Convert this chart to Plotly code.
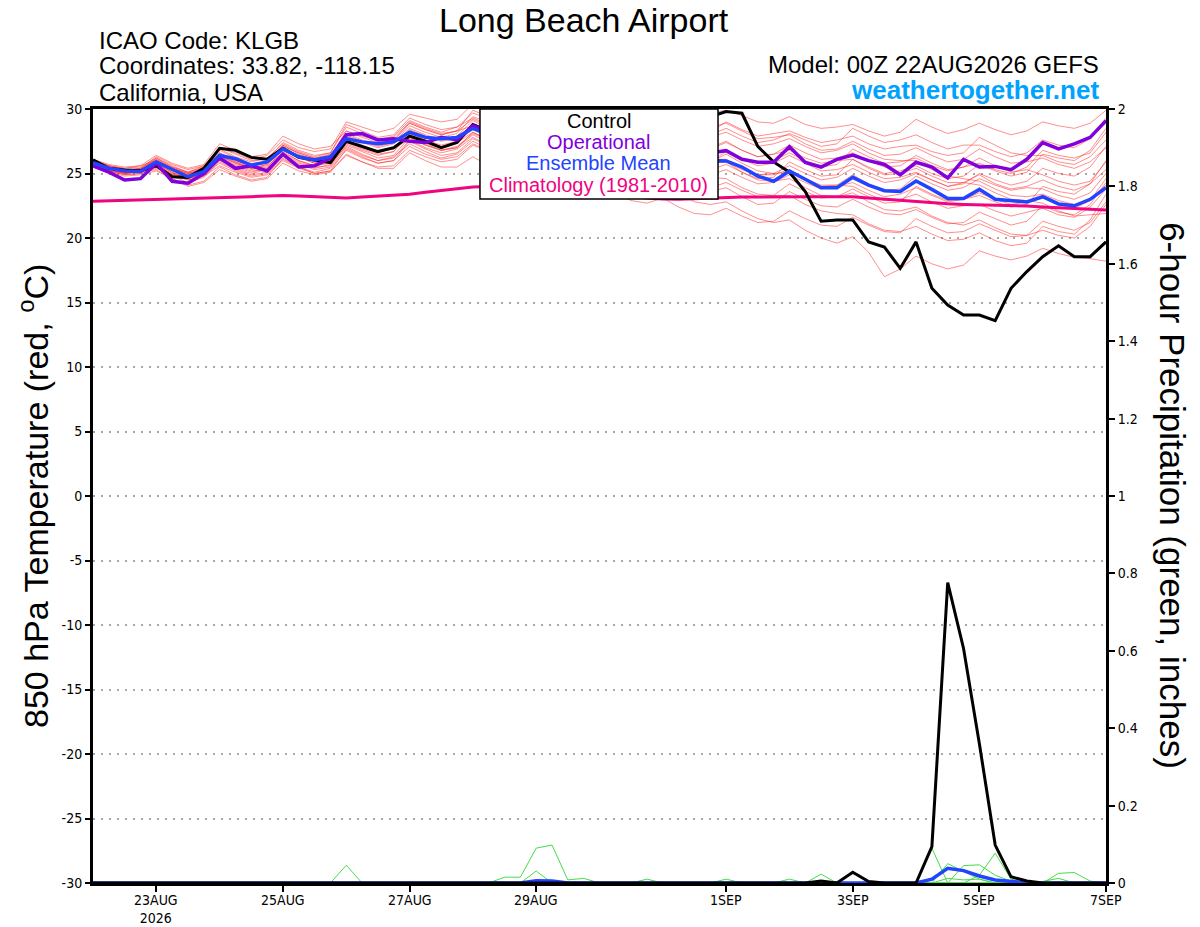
import pandas as pd
import plotly.graph_objects as go

# ---------------- data ----------------
times = pd.date_range("2026-08-22 00:00", periods=65, freq="6h")

temp_control = [26.05, 25.4, 25.27, 25.22, 25.6, 24.75, 24.7, 25.4, 26.95, 26.8, 26.25, 26.1,
                26.95, 26.25, 26.05, 25.85, 27.5, 27.1, 26.7, 27.0, 27.9, 27.5, 27.0, 27.4,
                28.8, 28.3, 28.2, 28.5, 29.2, 28.9, 28.6, 28.8, 29.4, 29.0, 28.7, 29.0,
                29.6, 29.3, 29.5, 29.4, 29.8, 29.67, 27.1, 25.9, 25.1, 23.6, 21.3, 21.4,
                21.4, 19.7, 19.3, 17.65, 19.7, 16.1, 14.8, 14.03, 14.03, 13.6, 16.1, 17.4,
                18.55, 19.4, 18.55, 18.55, 19.7]

temp_operational = [25.6, 25.1, 24.5, 24.6, 25.8, 24.4, 24.25, 25.0, 26.2, 25.4, 25.6, 25.2,
                    26.5, 25.5, 25.6, 26.2, 28.0, 28.1, 27.6, 27.7, 27.5, 27.4, 27.8, 27.6,
                    28.7, 28.3, 28.0, 27.9, 28.4, 28.0, 27.7, 27.6, 28.0, 27.6, 27.3, 27.2,
                    27.5, 27.0, 26.7, 26.6, 26.77, 26.1, 25.87, 25.87, 27.08, 25.85, 25.5, 26.1,
                    26.43, 26.0, 25.7, 24.9, 25.87, 25.5, 24.65, 26.1, 25.5, 25.55, 25.3, 26.1,
                    27.4, 26.9, 27.3, 27.8, 29.1]

temp_mean = [25.85, 25.4, 25.2, 25.15, 25.9, 25.3, 24.75, 25.15, 26.4, 26.15, 25.65, 25.9,
             26.9, 26.3, 26.05, 26.3, 27.7, 27.45, 27.3, 27.45, 28.2, 27.8, 27.7, 27.8,
             28.5, 28.0, 27.8, 27.7, 28.1, 27.8, 27.5, 27.5, 27.6, 27.2, 26.9, 26.9,
             27.1, 26.6, 26.2, 26.0, 25.97, 25.5, 24.8, 24.4, 25.2, 24.55, 23.9, 23.9,
             24.7, 24.1, 23.67, 23.6, 24.42, 23.77, 23.07, 23.07, 23.77, 23.0, 22.9, 22.8,
             23.2, 22.64, 22.5, 23.0, 23.9]

temp_climatology = [22.85, 22.88, 22.92, 22.96, 23.0, 23.02, 23.05, 23.08, 23.1, 23.15, 23.2, 23.25,
                    23.3, 23.25, 23.2, 23.15, 23.1, 23.18, 23.25, 23.33, 23.4, 23.55, 23.7, 23.85,
                    23.95, 24.0, 24.05, 24.08, 24.05, 23.95, 23.85, 23.7, 23.55, 23.4, 23.25, 23.1,
                    23.02, 23.0, 23.05, 23.1, 23.15, 23.17, 23.18, 23.2, 23.2, 23.2, 23.2, 23.2,
                    23.2, 23.1, 23.0, 22.9, 22.8, 22.72, 22.65, 22.6, 22.58, 22.55, 22.5, 22.48,
                    22.4, 22.35, 22.3, 22.25, 22.17]

member_01 = [26.0, 25.6, 25.4, 25.5, 26.2, 25.5, 25.1, 25.6, 27.0, 26.6, 26.1, 26.4, 27.6, 27.0, 26.7, 26.9,
             29.0, 28.6, 28.2, 28.5, 29.6, 29.3, 29.0, 29.2, 30.4, 30.1, 29.8, 30.0, 30.6, 30.2, 29.9, 30.1,
             30.5, 30.0, 29.6, 29.8, 30.2, 29.8, 29.5, 29.7, 29.9, 29.5, 29.0, 28.9, 29.4, 28.8, 28.5, 28.6,
             28.8, 28.3, 27.9, 28.2, 29.2, 28.6, 28.1, 28.4, 28.9, 28.4, 28.0, 28.3, 29.0, 28.7, 28.5, 28.9, 29.9]
member_02 = [25.8, 25.3, 25.0, 25.2, 25.7, 25.2, 24.9, 25.3, 26.3, 25.9, 25.5, 25.9, 26.8, 26.4, 26.1, 26.3,
             28.3, 27.9, 27.6, 27.9, 29.1, 28.6, 28.2, 28.6, 29.3, 28.8, 28.5, 28.9, 29.5, 29.0, 28.6, 28.9,
             29.4, 28.8, 28.4, 28.6, 28.9, 28.3, 27.9, 28.2, 29.0, 28.4, 27.9, 28.1, 28.3, 27.8, 27.4, 27.6,
             27.9, 27.3, 26.9, 27.1, 27.2, 26.7, 26.4, 26.6, 27.8, 27.2, 26.6, 26.4, 26.4, 25.9, 25.7, 26.3, 27.6]
member_03 = [25.7, 25.2, 25.1, 25.3, 26.0, 25.3, 24.8, 25.2, 26.6, 26.0, 25.6, 25.8, 27.2, 26.5, 26.1, 26.2,
             27.9, 27.4, 27.0, 27.3, 28.5, 28.0, 27.6, 27.9, 29.1, 28.5, 28.0, 28.2, 28.6, 28.0, 27.6, 27.8,
             28.0, 27.4, 27.0, 27.2, 27.5, 26.9, 26.5, 26.6, 26.8, 26.2, 25.8, 26.0, 26.6, 26.0, 25.5, 25.7,
             26.9, 26.3, 25.8, 25.9, 26.2, 25.6, 25.2, 25.5, 25.8, 25.3, 25.0, 25.5, 26.8, 26.4, 26.2, 26.6, 28.2]
member_04 = [26.1, 25.6, 25.3, 25.4, 25.9, 25.4, 25.0, 25.4, 27.0, 26.5, 26.0, 26.1, 27.4, 26.8, 26.4, 26.6,
             28.6, 28.1, 27.6, 27.8, 28.9, 28.4, 28.0, 28.3, 28.7, 28.2, 27.8, 28.0, 28.3, 27.8, 27.3, 27.5,
             27.6, 27.0, 26.5, 26.6, 26.8, 26.2, 25.7, 25.8, 25.9, 25.3, 24.9, 25.0, 25.6, 25.0, 24.5, 24.7,
             25.4, 24.8, 24.3, 24.5, 25.0, 24.5, 24.0, 24.3, 24.9, 24.2, 23.8, 24.0, 24.5, 24.0, 23.7, 24.2, 25.3]
member_05 = [25.9, 25.5, 25.3, 25.2, 25.6, 25.0, 24.6, 25.0, 26.2, 25.7, 25.3, 25.5, 26.7, 26.0, 25.6, 25.8,
             27.3, 26.8, 26.4, 26.7, 28.0, 27.5, 27.1, 27.4, 28.2, 27.6, 27.2, 27.4, 27.9, 27.3, 26.8, 26.9,
             27.3, 26.6, 26.1, 26.0, 26.2, 25.5, 25.0, 24.9, 25.3, 24.7, 24.2, 24.3, 24.9, 24.3, 23.8, 24.0,
             24.3, 23.7, 23.2, 23.4, 23.9, 23.3, 22.8, 23.0, 23.5, 23.0, 22.6, 22.8, 23.1, 22.6, 22.3, 22.9, 24.6]
member_06 = [25.6, 25.2, 24.9, 25.0, 25.4, 24.8, 24.3, 24.7, 25.9, 25.3, 24.9, 25.1, 26.3, 25.7, 25.3, 25.5,
             27.0, 26.4, 26.0, 26.2, 27.6, 27.0, 26.6, 26.9, 27.8, 27.2, 26.8, 27.1, 28.2, 27.6, 27.1, 27.2,
             27.8, 27.2, 26.6, 26.8, 27.1, 26.4, 25.8, 25.9, 26.5, 25.8, 25.2, 25.0, 25.1, 24.5, 24.0, 24.1,
             24.0, 23.4, 22.9, 23.0, 23.4, 22.8, 22.3, 22.5, 22.6, 22.1, 21.7, 22.0, 22.3, 21.8, 21.6, 22.4, 23.8]
member_07 = [25.8, 25.4, 25.1, 25.1, 25.5, 24.9, 24.5, 24.8, 25.6, 25.1, 24.7, 24.9, 26.0, 25.4, 25.0, 25.2,
             26.4, 25.9, 25.5, 25.6, 26.8, 26.3, 25.9, 26.1, 27.2, 26.7, 26.2, 26.4, 27.0, 26.4, 25.9, 25.9,
             26.2, 25.6, 25.0, 24.9, 25.0, 24.3, 23.7, 23.6, 23.9, 23.2, 22.6, 22.7, 23.6, 23.0, 22.5, 22.4,
             23.0, 22.4, 21.9, 21.8, 22.2, 21.6, 21.1, 21.2, 22.0, 21.5, 21.0, 21.3, 22.5, 22.0, 21.8, 22.6, 24.3]
member_08 = [25.7, 25.3, 25.0, 25.1, 25.3, 24.6, 24.1, 24.4, 25.5, 24.9, 24.5, 24.7, 26.2, 25.5, 25.0, 25.2,
             26.9, 26.3, 25.8, 26.0, 27.5, 26.9, 26.4, 26.6, 27.7, 27.1, 26.6, 26.7, 27.1, 26.4, 25.8, 25.6,
             25.9, 25.1, 24.4, 24.1, 24.3, 23.5, 22.8, 22.6, 22.8, 22.1, 21.5, 21.2, 21.4, 20.6, 20.0, 19.6,
             20.1, 18.9, 17.0, 17.6, 18.6, 18.0, 17.6, 17.9, 19.0, 18.6, 18.3, 18.6, 19.2, 18.8, 18.5, 18.4, 18.2]
member_09 = [26.0, 25.5, 25.2, 25.3, 26.1, 25.4, 25.0, 25.3, 26.8, 26.2, 25.7, 25.9, 27.1, 26.6, 26.2, 26.5,
             28.0, 27.5, 27.1, 27.4, 28.7, 28.2, 27.8, 28.1, 29.4, 29.0, 28.6, 28.9, 29.8, 29.3, 28.9, 29.1,
             29.0, 28.4, 27.8, 27.6, 27.5, 26.7, 26.0, 25.8, 25.9, 25.1, 24.5, 24.4, 24.6, 23.9, 23.3, 23.2,
             23.5, 22.8, 22.2, 22.1, 22.4, 21.7, 21.2, 21.0, 21.4, 20.8, 20.3, 20.2, 20.6, 20.2, 20.0, 20.9, 22.6]
member_10 = [25.9, 25.4, 25.2, 25.4, 26.3, 25.7, 25.3, 25.6, 26.5, 25.9, 25.4, 25.6, 26.6, 26.0, 25.6, 25.9,
             27.5, 27.0, 26.6, 27.0, 28.1, 27.6, 27.2, 27.5, 28.4, 27.9, 27.5, 27.8, 28.8, 28.3, 27.9, 28.2,
             28.6, 28.1, 27.6, 27.9, 28.5, 28.0, 27.6, 27.8, 28.2, 27.6, 27.1, 27.3, 27.7, 27.1, 26.6, 26.8,
             27.3, 26.6, 26.1, 26.0, 26.0, 25.3, 24.8, 24.6, 24.4, 23.8, 23.3, 23.2, 23.4, 22.9, 22.6, 23.0, 24.1]
member_11 = [25.8, 25.3, 25.1, 25.3, 26.0, 25.4, 24.9, 25.1, 26.1, 25.5, 25.1, 25.4, 27.0, 26.3, 25.8, 26.0,
             27.8, 27.2, 26.7, 26.9, 27.9, 27.3, 26.8, 27.0, 28.0, 27.4, 26.9, 27.1, 27.5, 26.9, 26.4, 26.5,
             27.0, 26.4, 25.9, 25.9, 26.5, 25.8, 25.3, 25.3, 25.7, 25.1, 24.6, 24.7, 25.9, 25.3, 24.8, 24.9,
             26.1, 25.4, 24.9, 25.0, 25.4, 24.8, 24.3, 24.3, 24.1, 23.5, 23.0, 22.9, 22.7, 22.1, 21.7, 21.8, 21.9]
member_12 = [25.7, 25.2, 24.9, 25.0, 25.8, 25.1, 24.6, 25.0, 26.0, 25.4, 25.0, 25.3, 26.4, 25.8, 25.4, 25.7,
             27.1, 26.5, 26.0, 26.3, 27.3, 26.7, 26.2, 26.5, 27.5, 26.9, 26.4, 26.6, 27.3, 26.7, 26.2, 26.4,
             26.9, 26.3, 25.8, 26.0, 26.8, 26.2, 25.7, 25.9, 26.7, 26.1, 25.6, 25.8, 26.4, 25.8, 25.2, 25.3,
             25.7, 25.1, 24.6, 24.7, 25.1, 24.5, 24.0, 24.2, 25.0, 24.5, 24.1, 24.4, 25.4, 25.0, 24.8, 25.5, 27.1]
member_13 = [25.5, 25.1, 24.8, 24.9, 25.2, 24.6, 24.0, 24.3, 25.3, 24.8, 24.4, 24.6, 25.8, 25.2, 24.9, 25.1,
             26.5, 25.9, 25.4, 25.4, 26.6, 26.0, 25.5, 25.5, 26.3, 25.6, 25.0, 24.9, 25.4, 24.6, 24.0, 23.8,
             24.2, 23.5, 22.9, 22.7, 23.1, 22.4, 21.9, 21.8, 22.3, 21.7, 21.2, 21.3, 22.1, 21.5, 21.0, 20.9,
             21.6, 21.0, 20.5, 20.4, 21.5, 20.9, 20.4, 20.5, 21.1, 20.6, 20.1, 20.2, 21.3, 20.9, 20.6, 21.2, 22.8]
member_14 = [26.0, 25.6, 25.4, 25.6, 26.4, 25.8, 25.4, 25.7, 27.3, 26.8, 26.3, 26.5, 27.9, 27.3, 26.9, 27.1,
             28.3, 27.8, 27.4, 27.6, 29.0, 28.5, 28.1, 28.3, 29.2, 28.7, 28.3, 28.5, 29.0, 28.5, 28.0, 28.2,
             28.7, 28.2, 27.7, 27.9, 28.8, 28.3, 27.8, 28.0, 28.5, 27.9, 27.4, 27.6, 28.1, 27.6, 27.1, 27.3,
             28.5, 27.9, 27.4, 27.6, 28.0, 27.4, 26.9, 27.2, 27.2, 26.7, 26.3, 26.6, 27.6, 27.2, 27.0, 27.7, 29.3]
member_15 = [25.9, 25.4, 25.1, 25.2, 25.7, 25.1, 24.7, 25.0, 26.4, 25.8, 25.4, 25.7, 26.9, 26.3, 25.9, 26.1,
             27.6, 27.1, 26.7, 26.9, 27.7, 27.2, 26.8, 27.1, 28.1, 27.6, 27.2, 27.4, 27.8, 27.2, 26.7, 26.8,
             27.2, 26.5, 25.9, 25.8, 26.0, 25.3, 24.8, 24.7, 24.6, 23.9, 23.4, 23.3, 23.3, 22.6, 22.1, 21.9,
             21.8, 21.1, 20.6, 20.5, 20.9, 20.3, 19.8, 19.9, 20.4, 19.8, 19.4, 19.6, 20.9, 20.5, 20.3, 21.4, 23.4]
member_16 = [25.6, 25.2, 25.0, 25.1, 25.5, 24.9, 24.5, 24.8, 26.1, 25.6, 25.2, 25.3, 26.5, 25.9, 25.5, 25.6,
             27.2, 26.7, 26.2, 26.4, 27.8, 27.2, 26.8, 27.0, 28.2, 27.6, 27.2, 27.4, 28.4, 27.9, 27.5, 27.7,
             28.2, 27.6, 27.2, 27.3, 27.9, 27.3, 26.8, 27.0, 27.5, 26.8, 26.3, 26.5, 27.2, 26.6, 26.1, 26.2,
             26.6, 26.0, 25.5, 25.6, 26.4, 25.8, 25.3, 25.5, 26.2, 25.6, 25.1, 25.3, 24.9, 24.4, 24.1, 24.4, 25.9]
member_17 = [26.1, 25.7, 25.5, 25.6, 26.0, 25.4, 25.0, 25.3, 26.9, 26.3, 25.9, 26.2, 27.3, 26.7, 26.3, 26.6,
             28.8, 28.3, 27.8, 28.0, 29.3, 28.8, 28.4, 28.6, 29.7, 29.2, 28.7, 28.9, 30.2, 29.7, 29.2, 29.4,
             29.8, 29.2, 28.7, 28.9, 29.6, 29.0, 28.5, 28.6, 28.9, 28.3, 27.7, 27.8, 28.0, 27.3, 26.8, 26.9,
             27.5, 26.9, 26.4, 26.5, 27.0, 26.4, 25.9, 26.1, 26.9, 26.3, 25.8, 25.9, 26.2, 25.7, 25.4, 25.9, 27.0]
member_18 = [25.7, 25.3, 25.0, 25.2, 25.6, 25.0, 24.6, 24.9, 25.8, 25.2, 24.8, 25.0, 26.1, 25.5, 25.1, 25.4,
             26.8, 26.2, 25.8, 26.0, 27.1, 26.5, 26.1, 26.3, 27.3, 26.8, 26.3, 26.4, 26.6, 26.0, 25.5, 25.4,
             25.8, 25.2, 24.6, 24.5, 25.0, 24.3, 23.8, 23.9, 24.3, 23.7, 23.2, 23.3, 24.2, 23.6, 23.1, 23.2,
             23.8, 23.2, 22.7, 22.8, 24.0, 23.4, 22.9, 23.0, 23.3, 22.8, 22.4, 22.6, 24.0, 23.6, 23.4, 24.2, 26.0]
member_19 = [25.9, 25.5, 25.2, 25.3, 26.2, 25.6, 25.1, 25.4, 26.6, 26.0, 25.6, 25.9, 27.2, 26.6, 26.2, 26.4,
             27.4, 26.9, 26.5, 26.7, 28.4, 27.9, 27.5, 27.7, 28.8, 28.3, 27.9, 28.1, 29.2, 28.7, 28.2, 28.4,
             28.0, 27.4, 26.9, 27.0, 27.3, 26.7, 26.1, 26.1, 26.1, 25.4, 24.9, 24.9, 25.3, 24.6, 24.1, 24.1,
             24.9, 24.2, 23.7, 23.8, 24.8, 24.2, 23.7, 23.9, 24.6, 24.1, 23.7, 23.9, 23.8, 23.3, 23.0, 23.5, 25.0]
member_20 = [25.8, 25.4, 25.2, 25.4, 26.1, 25.5, 25.1, 25.5, 26.3, 25.8, 25.4, 25.7, 26.8, 26.2, 25.8, 26.1,
             28.1, 27.6, 27.2, 27.5, 28.9, 28.4, 28.0, 28.3, 29.9, 29.4, 29.0, 29.2, 29.3, 28.7, 28.2, 28.4,
             28.3, 27.7, 27.2, 27.4, 27.8, 27.2, 26.7, 26.9, 27.4, 26.8, 26.3, 26.5, 26.8, 26.2, 25.8, 26.0,
             26.1, 25.5, 25.0, 25.2, 25.6, 25.0, 24.6, 24.8, 25.7, 25.2, 24.8, 25.1, 26.5, 26.2, 26.0, 26.8, 28.5]

temp_members = [member_01, member_02, member_03, member_04, member_05, member_06, member_07,
                member_08, member_09, member_10, member_11, member_12, member_13, member_14,
                member_15, member_16, member_17, member_18, member_19, member_20]

precip_control = [0, 0, 0, 0, 0, 0, 0, 0, 0, 0, 0, 0, 0, 0, 0, 0,
                  0, 0, 0, 0, 0, 0, 0, 0, 0, 0, 0, 0, 0, 0, 0, 0,
                  0, 0, 0, 0, 0, 0, 0, 0, 0, 0, 0, 0, 0, 0, 0.005, 0,
                  0.028, 0.004, 0, 0, 0, 0.094, 0.776, 0.606, 0.36, 0.098, 0.016, 0.005, 0, 0, 0, 0,
                  0]
precip_mean = [0, 0, 0, 0, 0, 0, 0, 0, 0, 0, 0, 0, 0, 0, 0, 0,
               0.002, 0, 0, 0, 0, 0, 0, 0, 0, 0, 0, 0, 0.006, 0.005, 0, 0,
               0, 0, 0, 0, 0, 0, 0, 0, 0, 0, 0, 0, 0, 0, 0.001, 0,
               0, 0, 0, 0, 0, 0.01, 0.038, 0.032, 0.018, 0.008, 0.003, 0, 0, 0, 0, 0,
               0]
precip_m01 = [0, 0, 0, 0, 0, 0, 0, 0, 0, 0, 0, 0, 0, 0, 0, 0,
              0.046, 0, 0, 0, 0, 0, 0, 0, 0, 0, 0, 0, 0, 0, 0, 0,
              0, 0, 0, 0, 0, 0, 0, 0, 0, 0, 0, 0, 0, 0, 0, 0,
              0, 0, 0, 0, 0, 0.09, 0, 0, 0, 0, 0, 0, 0, 0, 0, 0,
              0]
precip_m02 = [0, 0, 0, 0, 0, 0, 0, 0, 0, 0, 0, 0, 0, 0, 0, 0,
              0, 0, 0, 0, 0, 0, 0, 0, 0, 0, 0.015, 0.015, 0.09, 0.098, 0.008, 0.012,
              0, 0, 0, 0, 0, 0, 0, 0, 0, 0, 0, 0, 0, 0, 0, 0,
              0, 0, 0, 0, 0, 0, 0, 0, 0, 0, 0, 0, 0, 0, 0, 0,
              0]
precip_m03 = [0, 0, 0, 0, 0, 0, 0, 0, 0, 0, 0, 0, 0, 0, 0, 0,
              0, 0, 0, 0, 0, 0, 0, 0, 0, 0, 0, 0, 0.031, 0, 0, 0,
              0, 0, 0, 0, 0, 0, 0, 0, 0, 0, 0, 0, 0, 0, 0, 0,
              0, 0, 0, 0, 0, 0, 0.05, 0.03, 0.01, 0, 0, 0, 0, 0, 0, 0,
              0]
precip_m04 = [0, 0, 0, 0, 0, 0, 0, 0, 0, 0, 0, 0, 0, 0, 0, 0,
              0, 0, 0, 0, 0, 0, 0, 0, 0, 0, 0, 0, 0, 0, 0, 0,
              0, 0, 0, 0.01, 0, 0, 0, 0, 0, 0, 0, 0, 0, 0, 0, 0,
              0, 0, 0, 0, 0, 0, 0, 0.045, 0.047, 0.02, 0.005, 0, 0, 0, 0, 0,
              0]
precip_m05 = [0, 0, 0, 0, 0, 0, 0, 0, 0, 0, 0, 0, 0, 0, 0, 0,
              0, 0, 0, 0, 0, 0, 0, 0, 0, 0, 0, 0, 0, 0, 0, 0,
              0, 0, 0, 0, 0, 0, 0, 0, 0.01, 0, 0, 0, 0.01, 0, 0, 0,
              0, 0, 0, 0, 0, 0, 0, 0, 0.02, 0.077, 0.01, 0, 0, 0, 0, 0,
              0]
precip_m06 = [0, 0, 0, 0, 0, 0, 0, 0, 0, 0, 0, 0, 0, 0, 0, 0,
              0, 0, 0, 0, 0, 0, 0, 0, 0, 0, 0, 0, 0, 0, 0, 0,
              0, 0, 0, 0, 0, 0, 0, 0, 0, 0, 0, 0, 0, 0, 0.023, 0,
              0, 0, 0, 0, 0, 0, 0, 0, 0, 0, 0, 0, 0, 0.025, 0.027, 0.005,
              0]
precip_m07 = [0, 0, 0, 0, 0, 0, 0, 0, 0, 0, 0, 0, 0, 0, 0, 0,
              0, 0, 0, 0, 0, 0, 0, 0, 0, 0, 0, 0, 0, 0, 0, 0,
              0, 0, 0, 0, 0, 0, 0, 0, 0, 0, 0, 0, 0, 0, 0, 0,
              0, 0, 0, 0, 0, 0, 0.012, 0.008, 0.01, 0, 0, 0, 0.004, 0.012, 0, 0,
              0]
precip_members = [precip_m01, precip_m02, precip_m03, precip_m04, precip_m05, precip_m06, precip_m07]

temp_ticks = [30, 25, 20, 15, 10, 5, 0, -5, -10, -15, -20, -25, -30]
temp_tick_text = ["30", "25", "20", "15", "10", "5", "0", "-5", "-10", "-15", "-20", "-25", "-30"]
precip_ticks = [0, 0.2, 0.4, 0.6, 0.8, 1.0, 1.2, 1.4, 1.6, 1.8, 2.0]
precip_tick_text = ["0", "0.2", "0.4", "0.6", "0.8", "1", "1.2", "1.4", "1.6", "1.8", "2"]
date_ticks = ["2026-08-23", "2026-08-25", "2026-08-27", "2026-08-29",
              "2026-09-01", "2026-09-03", "2026-09-05", "2026-09-07"]
date_tick_text = ["23AUG<br>2026", "25AUG", "27AUG", "29AUG", "1SEP", "3SEP", "5SEP", "7SEP"]

legend_labels = ["Control", "Operational", "Ensemble Mean", "Climatology (1981-2010)"]

# ---------------- styles ----------------
C_MEMBER = "rgba(255,45,45,0.6)"
C_PRECIP = "rgb(70,220,70)"
C_CONTROL = "#000000"
C_OPER = "#8200dc"
C_MEAN = "#2244ff"
C_CLIM = "#f0047f"
FONT = "Liberation Sans, Arial, sans-serif"
TICKFONT = dict(family="Liberation Sans Narrow, DejaVu Sans Condensed, Liberation Sans", size=14, color="black")

fig = go.Figure()

for m in temp_members:
    fig.add_trace(go.Scatter(x=times, y=m, mode="lines", line=dict(color=C_MEMBER, width=0.9),
                             hoverinfo="skip", showlegend=False))

fig.add_trace(go.Scatter(x=times, y=temp_climatology, mode="lines", line=dict(color=C_CLIM, width=3), showlegend=False))
fig.add_trace(go.Scatter(x=times, y=temp_control, mode="lines", line=dict(color=C_CONTROL, width=3), showlegend=False))
fig.add_trace(go.Scatter(x=times, y=temp_operational, mode="lines", line=dict(color=C_OPER, width=3.5), showlegend=False))
fig.add_trace(go.Scatter(x=times, y=temp_mean, mode="lines", line=dict(color=C_MEAN, width=3.5), showlegend=False))

for p in precip_members:
    fig.add_trace(go.Scatter(x=times, y=p, yaxis="y2", mode="lines", line=dict(color=C_PRECIP, width=1),
                             hoverinfo="skip", showlegend=False))
fig.add_trace(go.Scatter(x=times, y=precip_mean, yaxis="y2", mode="lines", line=dict(color=C_MEAN, width=3.5), showlegend=False))
fig.add_trace(go.Scatter(x=times, y=precip_control, yaxis="y2", mode="lines", line=dict(color=C_CONTROL, width=3), showlegend=False))

fig.update_layout(
    width=1200, height=927,
    margin=dict(l=93, r=94, t=109, b=44, pad=0, autoexpand=False),
    paper_bgcolor="white", plot_bgcolor="white",
    font=dict(family=FONT, color="black"),
    showlegend=False,
    xaxis=dict(range=[times[0], times[-1]], tickvals=date_ticks, showticklabels=False,
               ticks="outside", ticklen=6, tickwidth=1.5, tickcolor="black",
               showline=True, linewidth=3, linecolor="black", mirror=True, automargin=False,
               showgrid=False, zeroline=False),
    yaxis=dict(range=[-30, 30], tickvals=temp_ticks, ticktext=temp_tick_text, tickfont=TICKFONT,
               ticks="outside", ticklen=5, tickwidth=1.5, tickcolor="black", automargin=False,
               showline=True, linewidth=3, linecolor="black", mirror=True,
               showgrid=True, gridcolor="#a8a8a8", griddash="2px,6px", gridwidth=1.5, zeroline=False),
    yaxis2=dict(range=[0, 2], overlaying="y", side="right", tickvals=precip_ticks, ticktext=precip_tick_text,
                tickfont=TICKFONT, ticks="outside", ticklen=6, tickwidth=1.5, tickcolor="black", automargin=False,
                showline=True, linewidth=3, linecolor="black", showgrid=False, zeroline=False),
)

# x tick labels (placed close under the axis as in the reference)
for tv, tt in zip(date_ticks, date_tick_text):
    fig.add_annotation(text=tt, x=tv, xref="x", yref="paper", y=-0.0095, showarrow=False,
                       xanchor="center", yanchor="top", font=TICKFONT)

# legend box
fig.add_shape(type="rect", xref="paper", yref="paper", x0=0.382, x1=0.617, y0=0.8837, y1=1.0,
              line=dict(color="black", width=1.5), fillcolor="white", layer="above")
legend_colors = [C_CONTROL, C_OPER, C_MEAN, C_CLIM]
legend_y = [0.9845, 0.9574, 0.9302, 0.9018]
for lab, col, yy in zip(legend_labels, legend_colors, legend_y):
    fig.add_annotation(text=lab, xref="paper", yref="paper", x=0.4995, y=yy, showarrow=False,
                       xanchor="center", yanchor="middle", font=dict(family=FONT, size=20, color=col))

# header texts
fig.add_annotation(text="Long Beach Airport", xref="paper", yref="paper", x=0.485, y=1.1155,
                   showarrow=False, xanchor="center", yanchor="middle", font=dict(family=FONT, size=34))
for txt, yy in [("ICAO Code: KLGB", 1.0891), ("Coordinates: 33.82, -118.15", 1.0556), ("California, USA", 1.0207)]:
    fig.add_annotation(text=txt, xref="paper", yref="paper", x=0.004, y=yy, showarrow=False,
                       xanchor="left", yanchor="middle", font=dict(family=FONT, size=24))
fig.add_annotation(text="Model: 00Z 22AUG2026 GEFS", xref="paper", yref="paper", x=0.9955, y=1.0581,
                   showarrow=False, xanchor="right", yanchor="middle", font=dict(family=FONT, size=24))
fig.add_annotation(text="<b>weathertogether.net</b>", xref="paper", yref="paper", x=0.9955, y=1.0245,
                   showarrow=False, xanchor="right", yanchor="middle", font=dict(family=FONT, size=26, color="#00a2ff"))

# axis titles
fig.add_annotation(text="850 hPa Temperature (red, <sup>o</sup>C)", xref="paper", yref="paper", x=-0.0592, y=0.5,
                   showarrow=False, textangle=-90, xanchor="center", yanchor="middle", font=dict(family=FONT, size=34))
fig.add_annotation(text="6-hour Precipitation (green, inches)", xref="paper", yref="paper", x=1.066, y=0.5,
                   showarrow=False, textangle=90, xanchor="center", yanchor="middle", font=dict(family=FONT, size=35))

fig.write_html("out.html", config={"displayModeBar": False},
               post_script="document.body.style.margin='0';document.body.style.overflow='hidden';")
